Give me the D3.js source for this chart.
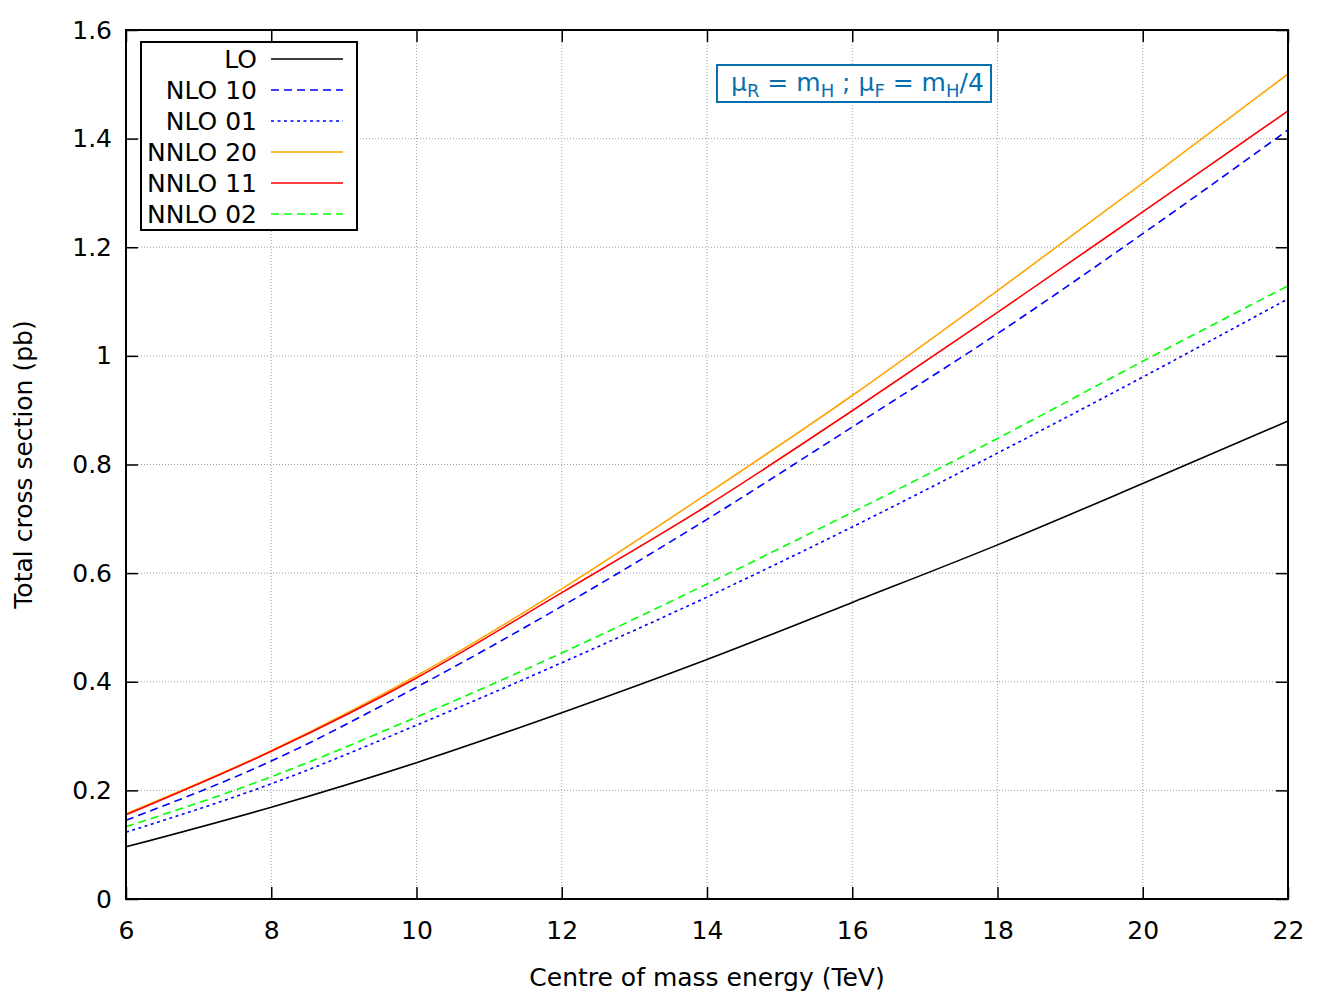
<!DOCTYPE html>
<html>
<head>
<meta charset="utf-8">
<script src="https://cdn.jsdelivr.net/npm/d3@7"></script>
<style>
  body { margin: 0; background: #fff; }
  text { font-family: "DejaVu Sans", sans-serif; }
</style>
</head>
<body>
<svg id="chart" width="1334" height="1000"></svg>
<script>
// energies (TeV) and cross sections (pb)
const energy = [6, 8, 10, 12, 14, 16, 18, 20, 22];
const lo     = [0.096, 0.169, 0.251, 0.343, 0.441, 0.546, 0.652, 0.765, 0.880];
const nlo10  = [0.145, 0.254, 0.390, 0.539, 0.699, 0.869, 1.041, 1.225, 1.416];
const nlo01  = [0.123, 0.212, 0.320, 0.435, 0.556, 0.685, 0.821, 0.961, 1.105];
const nnlo20 = [0.157, 0.273, 0.411, 0.571, 0.746, 0.927, 1.120, 1.318, 1.519];
const nnlo11 = [0.155, 0.272, 0.407, 0.564, 0.724, 0.899, 1.080, 1.265, 1.451];
const nnlo02 = [0.133, 0.225, 0.335, 0.453, 0.580, 0.712, 0.848, 0.990, 1.129];

const xTicks = [6, 8, 10, 12, 14, 16, 18, 20, 22];
const yTicks = [0, 0.2, 0.4, 0.6, 0.8, 1, 1.2, 1.4, 1.6];

const series = [
    {name: "LO",      vals: lo,     color: "#000000", dash: null},
    {name: "NLO 10",  vals: nlo10,  color: "#0000ff", dash: "8,5"},
    {name: "NLO 01",  vals: nlo01,  color: "#0000ff", dash: "3,3.5"},
    {name: "NNLO 20", vals: nnlo20, color: "#ffa500", dash: null},
    {name: "NNLO 11", vals: nnlo11, color: "#ff0000", dash: null},
    {name: "NNLO 02", vals: nnlo02, color: "#00ff00", dash: "8,5"}
];

const svg = d3.select("#chart");
const pLeft = 126, pRight = 1288, pTop = 30, pBottom = 899;
const fs = 25;

const x = d3.scaleLinear().domain([6, 22]).range([pLeft, pRight]);
const y = d3.scaleLinear().domain([0, 1.6]).range([pBottom, pTop]);

// grid
svg.append("g")
    .selectAll("line")
    .data(xTicks.slice(1, -1))
    .enter()
    .append("line")
    .attr("x1", d => x(d)).attr("x2", d => x(d))
    .attr("y1", pTop).attr("y2", pBottom)
    .attr("stroke", "#a0a0a0").attr("stroke-width", 1)
    .attr("stroke-dasharray", "1,2");

svg.append("g")
    .selectAll("line")
    .data(yTicks.slice(1, -1))
    .enter()
    .append("line")
    .attr("x1", pLeft).attr("x2", pRight)
    .attr("y1", d => y(d)).attr("y2", d => y(d))
    .attr("stroke", "#a0a0a0").attr("stroke-width", 1)
    .attr("stroke-dasharray", "1,2");

// axes with inward ticks on all four sides
const tl = 12;
svg.append("g")
    .attr("transform", "translate(0," + pBottom + ")")
    .call(d3.axisBottom(x).tickValues(xTicks).tickSize(-tl).tickPadding(22).tickFormat(d3.format("d")))
    .call(g => g.select(".domain").remove())
    .call(g => g.selectAll("line").attr("stroke-width", 1.5))
    .call(g => g.selectAll("text").attr("font-size", fs).attr("font-family", "DejaVu Sans").attr("dy", "0.71em"));

svg.append("g")
    .attr("transform", "translate(0," + pTop + ")")
    .call(d3.axisTop(x).tickValues(xTicks).tickSize(-tl).tickFormat(""))
    .call(g => g.select(".domain").remove())
    .call(g => g.selectAll("line").attr("stroke-width", 1.5));

svg.append("g")
    .attr("transform", "translate(" + pLeft + ",0)")
    .call(d3.axisLeft(y).tickValues(yTicks).tickSize(-tl).tickPadding(14).tickFormat(d => String(+d.toFixed(1))))
    .call(g => g.select(".domain").remove())
    .call(g => g.selectAll("line").attr("stroke-width", 1.5))
    .call(g => g.selectAll("text").attr("font-size", fs).attr("font-family", "DejaVu Sans"));

svg.append("g")
    .attr("transform", "translate(" + pRight + ",0)")
    .call(d3.axisRight(y).tickValues(yTicks).tickSize(-tl).tickFormat(""))
    .call(g => g.select(".domain").remove())
    .call(g => g.selectAll("line").attr("stroke-width", 1.5));

// curves
const line = d3.line()
    .x((d, i) => x(energy[i]))
    .y(d => y(d))
    .curve(d3.curveMonotoneX);

svg.append("g")
    .selectAll("path")
    .data(series)
    .enter()
    .append("path")
    .attr("d", d => line(d.vals))
    .attr("fill", "none")
    .attr("stroke", d => d.color)
    .attr("stroke-width", 1.6)
    .attr("stroke-dasharray", d => d.dash);

// frame
svg.append("rect")
    .attr("x", pLeft).attr("y", pTop)
    .attr("width", pRight - pLeft).attr("height", pBottom - pTop)
    .attr("fill", "none").attr("stroke", "black").attr("stroke-width", 2);

// legend
const lg = svg.append("g");
lg.append("rect")
    .attr("x", 141).attr("y", 42).attr("width", 216).attr("height", 188)
    .attr("fill", "white").attr("stroke", "black").attr("stroke-width", 2);

const rows = lg.selectAll("g.row")
    .data(series)
    .enter()
    .append("g")
    .attr("class", "row")
    .attr("transform", (d, i) => "translate(0," + (59 + i * 31) + ")");

rows.append("text")
    .attr("x", 257).attr("y", 0).attr("dy", "0.35em")
    .attr("text-anchor", "end").attr("font-size", fs)
    .text(d => d.name);

rows.append("line")
    .attr("x1", 271).attr("x2", 343)
    .attr("stroke", d => d.color).attr("stroke-width", 1.6)
    .attr("stroke-dasharray", d => d.dash);

// scale label box
const boxColor = "#0a6fad";
svg.append("rect")
    .attr("x", 717).attr("y", 65).attr("width", 274).attr("height", 37)
    .attr("fill", "white").attr("stroke", boxColor).attr("stroke-width", 2);

const lab = svg.append("text")
    .attr("x", 731).attr("y", 91)
    .attr("font-size", fs).attr("fill", boxColor);
lab.append("tspan").text("μ");
lab.append("tspan").attr("dy", 6).attr("font-size", 18).text("R");
lab.append("tspan").attr("dy", -6).text(" = m");
lab.append("tspan").attr("dy", 6).attr("font-size", 18).text("H");
lab.append("tspan").attr("dy", -6).text(" ; μ");
lab.append("tspan").attr("dy", 6).attr("font-size", 18).text("F");
lab.append("tspan").attr("dy", -6).text(" = m");
lab.append("tspan").attr("dy", 6).attr("font-size", 18).text("H");
lab.append("tspan").attr("dy", -6).text("/4");

// axis titles
svg.append("text")
    .attr("x", (pLeft + pRight) / 2).attr("y", 986)
    .attr("text-anchor", "middle").attr("font-size", fs)
    .text("Centre of mass energy (TeV)");

svg.append("text")
    .attr("transform", "translate(32," + ((pTop + pBottom) / 2) + ") rotate(-90)")
    .attr("text-anchor", "middle").attr("font-size", fs)
    .text("Total cross section (pb)");
</script>
</body>
</html>
